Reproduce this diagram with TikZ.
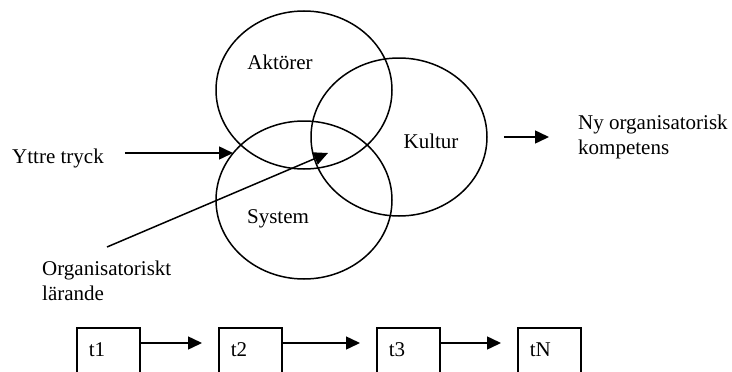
\documentclass[tikz,border=0pt]{standalone}
\usepackage{fontspec}
\setmainfont{Liberation Serif}
\usepackage{tikz}
\usetikzlibrary{shapes.geometric,arrows.meta,calc}

\tikzset{
  circ/.style={ellipse, draw, line width=1.5pt, minimum width=176pt, minimum height=158pt, inner sep=0pt},
  txt/.style={inner sep=0pt, font=\fontsize{21}{25}\selectfont, align=left},
  arr/.style={line width=1.5pt, -{Triangle[length=14pt,width=13pt]}},
  tbox/.style={draw, line width=1.5pt, anchor=north west, text width=39pt, inner xsep=12pt, inner ysep=8pt,
    text height=21pt, text depth=40pt, font=\fontsize{21}{25}\selectfont},
}

\begin{document}
\begin{tikzpicture}[x=1pt,y=-1pt]
  \useasboundingbox (0,0) rectangle (732,372);
  \clip (0,0) rectangle (732,372);
  % circles
  \node[circ] (aktorer) at (304,90) {};
  \node[circ] (kultur) at (399,137) {};
  \node[circ] (system) at (304,200) {};
  % labels
  \node[txt] (aktlbl) at (280,62) {Aktörer};
  \node[txt] (kultlbl) at (431,141) {Kultur};
  \node[txt] (syslbl) at (278,219) {System};
  \node[txt, anchor=west] (yttre) at (12,158) {Yttre tryck};
  \node[txt, anchor=west] (orglar) at (42,281) {Organisatoriskt\\lärande};
  \node[txt, anchor=west] (ny) at (578,137) {Ny organisatorisk\\kompetens};
  % free ends
  \coordinate (pushend) at (233,153);
  \coordinate (learnstart) at (107,247);
  \coordinate (learnend) at (328,153);
  % arrows
  \draw[arr] ($(yttre.east)+(21,-5)$) -- (pushend);
  \draw[arr] (learnstart) -- (learnend);
  \draw[arr, shorten <=16pt, shorten >=29pt] (kultur.east) -- (kultur.east -| ny.west);
  % time steps
  \node[tbox] (t1) at (76,327) {t1};
  \node[tbox] (t2) at (218,327) {t2};
  \node[tbox] (t3) at (376,327) {t3};
  \node[tbox] (tN) at (517,327) {tN};
  \draw[arr] ($(t1.north east)+(0,16)$) -- ($(t2.north west)+(-16,16)$);
  \draw[arr] ($(t2.north east)+(0,16)$) -- ($(t3.north west)+(-16,16)$);
  \draw[arr] ($(t3.north east)+(0,16)$) -- ($(tN.north west)+(-16,16)$);
\end{tikzpicture}
\end{document}
